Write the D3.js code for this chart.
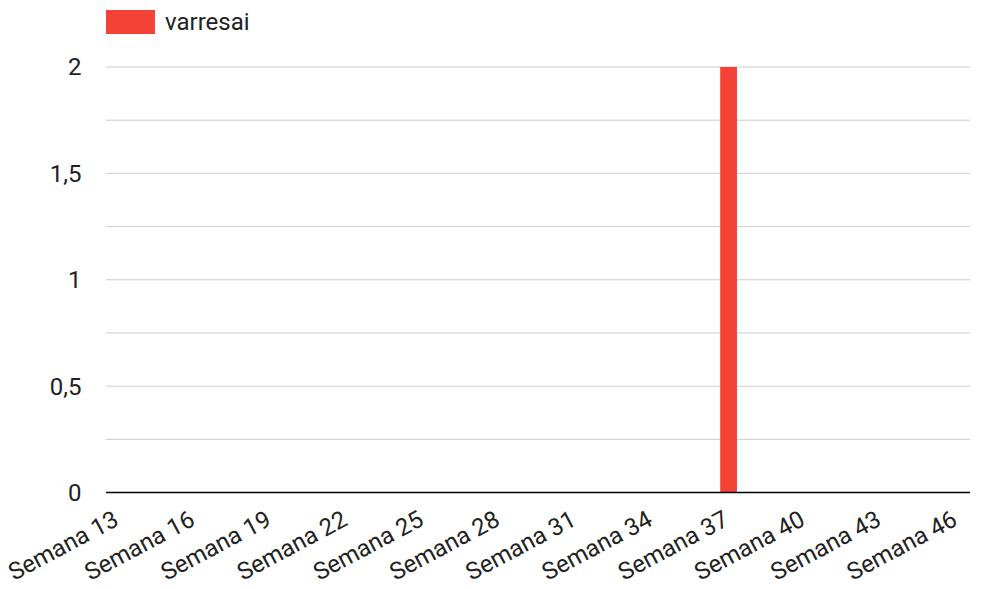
<!DOCTYPE html>
<html><head><meta charset="utf-8">
<script src="https://cdn.jsdelivr.net/npm/d3@7"></script>
<style>body{margin:0;background:#fff}svg{display:block}text{font-family:Roboto,sans-serif}</style>
</head><body>
<svg id="c" width="987" height="589"></svg>
<script>
const categories = [];
for (let w = 13; w <= 46; w++) categories.push("Semana " + w);
const seriesName = "varresai";
const values = [0,0,0,0,0,0,0,0,0,0,0,0,0,0,0,0,0,0,0,0,0,0,0,0,2,0,0,0,0,0,0,0,0,0];
const yTicks = [0, 0.5, 1, 1.5, 2];
const yGrid = [0.25, 0.5, 0.75, 1, 1.25, 1.5, 1.75, 2];
const xLabelEvery = 3;
const color = "#f44336";

const svg = d3.select("#c");
const m = {l:106, r:970, t:67, b:492.5};
const x = d3.scaleBand().domain(categories).range([m.l, m.r]).paddingInner(0.34).paddingOuter(0.17);
const y = d3.scaleLinear().domain([0, 2]).range([m.b, m.t]);
const fmt = d => String(d).replace(".", ",");
const fs = 24;

svg.append("g").selectAll("line").data(yGrid).join("line")
  .attr("x1", m.l).attr("x2", m.r).attr("y1", d => y(d)).attr("y2", d => y(d))
  .attr("stroke", "#cccccc").attr("stroke-width", 1);

svg.append("g").selectAll("text").data(yTicks).join("text")
  .attr("x", 81.5).attr("y", d => y(d)).attr("dy", "0.35em")
  .attr("text-anchor", "end").attr("font-size", fs).attr("fill", "#222").text(fmt);

svg.append("g").selectAll("rect").data(values).join("rect")
  .attr("x", (d, i) => x(categories[i])).attr("width", x.bandwidth())
  .attr("y", d => y(d)).attr("height", d => y(0) - y(d)).attr("fill", color);

svg.append("line").attr("x1", m.l).attr("x2", m.r).attr("y1", y(0)).attr("y2", y(0))
  .attr("stroke", "#000").attr("stroke-width", 1.6);

svg.append("g").selectAll("text").data(categories.filter((c, i) => i % xLabelEvery === 0)).join("text")
  .attr("transform", d => `translate(${x(d) + x.bandwidth()/2 + 1.5},${y(0) + 32}) rotate(-28)`)
  .attr("text-anchor", "end").attr("font-size", fs).attr("fill", "#222").text(d => d);

svg.append("rect").attr("x", 106).attr("y", 10).attr("width", 49).attr("height", 24).attr("fill", color);
svg.append("text").attr("x", 165).attr("y", 21.5).attr("dy", "0.35em").attr("font-size", fs).attr("fill", "#222").text(seriesName);
</script>
</body></html>
